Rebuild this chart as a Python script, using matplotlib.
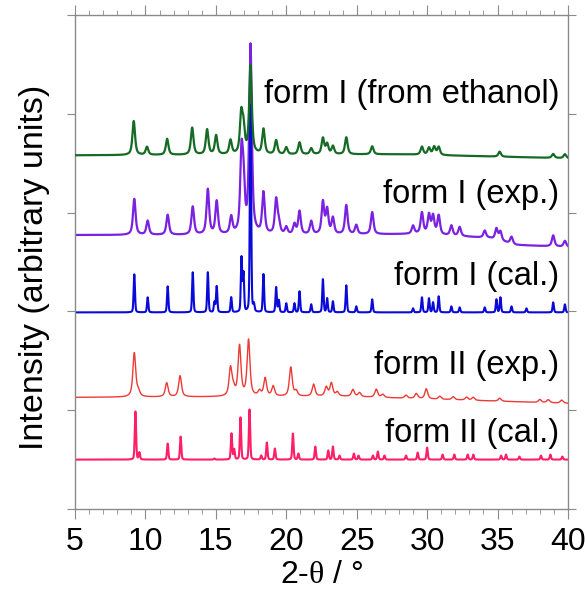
import numpy as np
import matplotlib
matplotlib.use("Agg")
import matplotlib.pyplot as plt

plt.rcParams['font.family'] = ['Liberation Sans', 'DejaVu Sans']
plt.rcParams['mathtext.fontset'] = 'custom'
plt.rcParams['mathtext.rm'] = 'Liberation Serif'

# ---------------- data (peak positions in 2-theta, heights in arbitrary units) ----------------
# form I (from ethanol)
eth_pos = [9.17, 10.11, 11.54, 13.32, 14.38, 15.02, 16.04, 16.80, 16.96, 17.46, 18.38, 19.28,
           20.00, 20.94, 21.77, 22.60, 22.90, 23.31, 24.26, 26.10, 29.63, 30.13, 30.50, 30.82,
           35.15, 38.95, 39.78]
eth_h = [34, 8, 16, 27, 25, 19, 14, 38, 24, 88, 25, 14,
         7, 12, 6, 16, 10, 8, 17, 8, 8, 7, 8, 8,
         5, 4, 4]
eth_bg_x = [5, 28, 40]
eth_bg_y = [0, 1, -3]

# form I (exp.)
exp1_pos = [9.21, 10.16, 11.58, 13.36, 14.43, 15.06, 16.09, 16.82, 16.96, 17.46, 18.38, 19.28,
            19.47, 20.00, 20.58, 20.94, 21.77, 22.60, 22.90, 23.31, 24.26, 24.97, 26.10, 29.00,
            29.63, 30.13, 30.42, 30.82, 31.72, 32.31, 34.09, 34.92, 35.20, 35.99, 38.95, 39.78]
exp1_h = [36, 14, 20, 28, 45, 33, 17, 74, 44, 188, 41, 34,
          11, 7, 10, 23, 13, 32, 24, 16, 29, 9, 22, 8,
          21, 19, 18, 19, 10, 9, 7, 11, 9, 7, 11, 6]
exp1_bg_x = [5, 20, 29.5, 34.4, 36.3, 40]
exp1_bg_y = [0, 0, 1, -3, -10, -12]

# form I (cal.)
cal1_pos = [9.21, 10.16, 11.58, 13.36, 14.43, 14.90, 15.06, 16.09, 16.82, 16.96, 17.46, 17.70,
            18.38, 19.28, 19.47, 20.00, 20.58, 20.94, 21.77, 22.60, 22.90, 23.31, 24.26, 24.97,
            26.10, 29.00, 29.63, 30.13, 30.42, 30.82, 31.72, 32.31, 34.09, 34.92, 35.20, 35.99,
            37.05, 38.95, 39.78]
cal1_h = [38, 15, 26, 40, 40, 10, 26, 15, 54, 38, 207, 7,
          38, 25, 12, 9, 9, 21, 8, 33, 14, 11, 27, 6,
          13, 4, 15, 14, 10, 16, 6, 5, 5, 13, 15, 6,
          4, 10, 8]

# form II (exp.)
exp2_pos = [9.21, 9.50, 11.51, 12.46, 16.04, 16.25, 16.68, 17.32, 18.10, 18.50, 19.07, 20.32,
            20.70, 21.94, 22.84, 23.20, 23.62, 24.73, 25.20, 26.39, 26.85, 28.50, 29.23, 29.94,
            30.90, 31.85, 32.80, 33.27, 35.15, 38.00, 38.60, 39.55]
exp2_h = [44, 5, 14, 21, 28, 7, 50, 56, 5, 18, 10, 29,
          5, 12, 9, 13, 4, 7, 4, 8, 3, 3, 5, 10,
          3, 3, 3, 3, 3, 3, 3, 3]
exp2_bg_x = [5, 24, 40]
exp2_bg_y = [0, 1, -6]

# form II (cal.)
cal2_pos = [9.29, 9.57, 11.58, 12.50, 14.90, 16.11, 16.30, 16.75, 17.39, 18.22, 18.62, 19.19,
            20.47, 20.86, 22.06, 22.98, 23.31, 23.78, 24.80, 25.13, 26.15, 26.50, 26.97, 28.50,
            29.33, 30.00, 31.10, 31.93, 32.88, 33.28, 35.25, 35.60, 36.55, 38.08, 38.75, 39.60]
cal2_h = [48, 7, 16, 23, 1, 26, 10, 42, 50, 4, 17, 11,
          26, 6, 13, 9, 13, 4, 6, 4, 4, 8, 4, 4,
          7, 12, 5, 5, 5, 5, 4, 5, 3, 4, 5, 3]

labels = ['form I (from ethanol)', 'form I (exp.)', 'form I (cal.)',
          'form II (exp.)', 'form II (cal.)']
offsets = [3.58, 2.773, 1.99, 1.13, 0.50]
label_y = [4.20, 3.18, 2.35, 1.45, 0.76]
colors = ['#166b24', '#7a22e0', '#0a0ad8', '#ec3a36', '#ff1f66']
x_ticks = [5, 10, 15, 20, 25, 30, 35, 40]

# ---------------- drawing ----------------
scale = 1 / 98.8
x = np.linspace(5, 40, 3501)


def pattern(pos, h, fwhm, eta):
    y = np.zeros_like(x)
    for p, a in zip(pos, h):
        d = (x - p) / (fwhm / 2)
        lor = 1 / (1 + d ** 2)
        gau = np.exp(-np.log(2) * d ** 2)
        y += a * (eta * lor + (1 - eta) * gau)
    return y


series = [
    (eth_pos, eth_h, 0.22, 0.7, eth_bg_x, eth_bg_y, 1.6),
    (exp1_pos, exp1_h, 0.22, 0.7, exp1_bg_x, exp1_bg_y, 1.6),
    (cal1_pos, cal1_h, 0.11, 0.3, [5, 40], [0, 0], 1.5),
    (exp2_pos, exp2_h, 0.24, 0.7, exp2_bg_x, exp2_bg_y, 1.0),
    (cal2_pos, cal2_h, 0.11, 0.3, [5, 40], [0, 0], 1.5),
]

fig = plt.figure(figsize=(5.85, 5.90), dpi=100)
ax = fig.add_axes([75 / 585, 81 / 590, 493 / 585, 494 / 590])

order = [1, 2, 0, 3, 4]
for i in order:
    pos, h, fw, eta, bx, by, lw = series[i]
    y = pattern(pos, h, fw, eta) + np.interp(x, bx, by)
    ax.plot(x, offsets[i] + y * scale, color=colors[i], lw=lw, zorder=2 + (i == 0))

for i, lab in enumerate(labels):
    ax.text(39.4, label_y[i], lab, ha='right', va='center', fontsize=23.5, color='black')

ax.set_xlim(5, 40)
ax.set_ylim(0, 5)
ax.set_xticks(x_ticks)
ax.set_xticks(np.arange(5, 41, 1), minor=True)
ax.set_yticks(np.arange(0, 6, 1))
ax.set_yticklabels([])
ax.tick_params(axis='both', which='both', direction='out', color='#8a8a8a', top=True, right=True)
ax.tick_params(axis='x', which='major', length=7, labelsize=23, pad=6)
ax.tick_params(axis='x', which='minor', length=3.5)
ax.tick_params(axis='y', which='major', length=6)
for s in ax.spines.values():
    s.set_color('#8a8a8a')
    s.set_linewidth(1)

ax.set_xlabel(r'2-$\mathrm{\theta}$ / °', fontsize=23, labelpad=2)
ax.set_ylabel('Intensity (arbitrary units)', fontsize=24.5)
ax.yaxis.set_label_coords(-0.05, 0.49)

fig.savefig('out.png', dpi=100)
